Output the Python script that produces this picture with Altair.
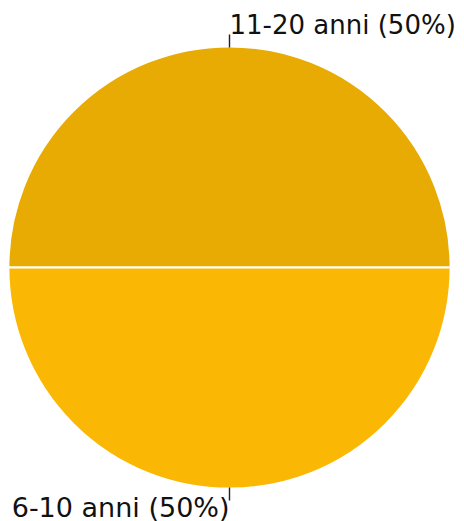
import altair as alt
import pandas as pd

categories = ["11-20 anni", "6-10 anni"]
values = [50, 50]
label_text = ["11-20 anni (50%)", "6-10 anni (50%)"]
colors = ["#E8AB04", "#FAB804"]
order = [0, 1]

df = pd.DataFrame({"cat": categories, "value": values, "label": label_text, "order": order})

theta_scale = alt.Scale(domain=[0, 100], range=[4.71238898, 10.99557429])

base = (
    alt.Chart(df)
    .transform_stack(stack="value", groupby=[], as_=["start", "end"], sort=[alt.SortField("order")])
    .transform_calculate(mid="(datum.start + datum.end) / 2",
                         t0="datum.mid - 0.05", t1="datum.mid + 0.05")
)

pie = base.mark_arc(radius=221, stroke="white", strokeWidth=1.8).encode(
    theta=alt.Theta("start:Q", scale=theta_scale),
    theta2="end:Q",
    color=alt.Color("cat:N", scale=alt.Scale(domain=categories, range=colors), legend=None),
)

ticks = base.mark_arc(radius=233, radius2=220, color="#222222").encode(
    theta=alt.Theta("t0:Q", scale=theta_scale),
    theta2="t1:Q",
)

top_label = base.transform_filter("datum.order == 0").mark_text(
    radius=234, align="left", baseline="alphabetic", fontSize=26, font="DejaVu Sans", color="#111111"
).encode(theta=alt.Theta("mid:Q", scale=theta_scale), text="label:N")

bottom_label = base.transform_filter("datum.order == 1").mark_text(
    radius=249, align="right", baseline="alphabetic", fontSize=27, font="DejaVu Sans", color="#111111"
).encode(theta=alt.Theta("mid:Q", scale=theta_scale), text="label:N")

chart = (
    alt.layer(pie, ticks, top_label, bottom_label)
    .properties(
        width=443,
        height=519,
        padding={"left": 0, "top": 0, "right": 5, "bottom": 0},
        autosize=alt.AutoSizeParams(type="none"),
    )
    .configure_view(stroke=None)
)

chart.save("out.html", embed_options={"renderer": "svg", "actions": False})
